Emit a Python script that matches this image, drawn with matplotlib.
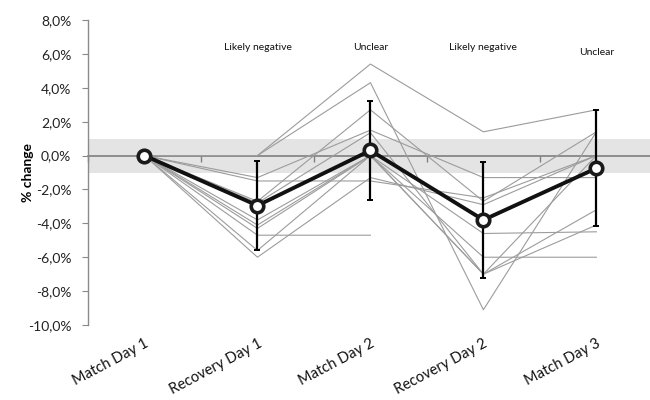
import numpy as np
import matplotlib
matplotlib.use('Agg')
from matplotlib import pyplot as plt

plt.rcParams['font.family'] = ['Lato', 'DejaVu Sans']

# Categories and tick labels
days = ['Match Day 1', 'Recovery Day 1', 'Match Day 2', 'Recovery Day 2', 'Match Day 3']
y_ticks = [8, 6, 4, 2, 0, -2, -4, -6, -8, -10]
y_tick_labels = ['8,0%', '6,0%', '4,0%', '2,0%', '0,0%', '-2,0%', '-4,0%', '-6,0%', '-8,0%', '-10,0%']

# Individual players (% change), nan = missing
nan = np.nan
player_a = [0, 0.0, 5.4, 1.4, 2.7]
player_b = [0, 0.0, 4.3, -9.1, 1.4]
player_c = [0, -1.3, 1.5, -1.3, -1.3]
player_d = [0, -1.5, -1.5, -2.5, 0.0]
player_e = [0, -4.7, -4.7, nan, nan]
player_f = [0, -2.7, 2.7, -2.7, 1.4]
player_g = [0, -2.8, 1.35, -7.0, 0.0]
player_h = [0, -3.8, 0.0, -4.6, -4.5]
player_i = [0, -4.1, 0.0, -6.0, -6.0]
player_j = [0, -4.3, 0.0, -7.0, -3.2]
player_k = [0, -5.6, 0.0, -7.0, -4.1]
player_l = [0, -6.0, -1.3, -2.9, 0.0]
players = [player_a, player_b, player_c, player_d, player_e, player_f,
           player_g, player_h, player_i, player_j, player_k, player_l]

# Group mean and SD
mean_change = [0, -2.95, 0.3, -3.8, -0.75]
sd_change = [0, 2.65, 2.9, 3.4, 3.42]

# Qualitative inference labels above each day
inference = ['', 'Likely negative', 'Unclear', 'Likely negative', 'Unclear']
inference_y = [0, 6.4, 6.4, 6.4, 6.1]

# Trivial change band
band = (-1, 1)


def main():
    fig = plt.figure(figsize=(6.5, 4), dpi=100)
    ax = fig.add_axes([0.1354, 0.1875, 0.869, 0.7625])

    x = np.arange(len(days))

    ax.axhspan(band[0], band[1], color='#e4e4e4', lw=0, zorder=0)

    for p in players:
        ax.plot(x, p, color='#9c9c9c', lw=0.8, zorder=2)

    ax.errorbar(x[1:], mean_change[1:], yerr=sd_change[1:], fmt='none',
                ecolor='black', elinewidth=1.6, capsize=2.5, capthick=1.4, zorder=3)
    ax.plot(x, mean_change, color='#111111', lw=2.8, marker='o', ms=9,
            mfc='white', mec='#1a1a1a', mew=2.6, zorder=4)

    for xi, txt, yi in zip(x, inference, inference_y):
        if txt:
            ax.text(xi, yi, txt, ha='center', va='center', fontsize=7.5, color='#111111')

    ax.set_xlim(-0.5, 4.5)
    ax.set_ylim(-10, 8)

    # y axis
    ax.set_yticks(y_ticks)
    ax.set_yticklabels(y_tick_labels, fontsize=10, color='#222222')
    ax.tick_params(axis='y', direction='out', length=4, color='#8a8a8a', pad=8)
    ax.spines['left'].set_color('#8a8a8a')
    ax.spines['left'].set_linewidth(1.0)
    ax.set_ylabel('% change', fontsize=10, fontweight='bold')
    ax.yaxis.set_label_coords(-0.096, 0.5)

    # zero line with ticks between categories
    ax.spines['bottom'].set_position(('data', 0))
    ax.spines['bottom'].set_color('#7f7f7f')
    ax.spines['bottom'].set_linewidth(1.2)
    ax.spines['bottom'].set_zorder(1)
    ax.set_xticks(np.arange(-0.5, 4.6, 1.0))
    ax.set_xticklabels([])
    ax.tick_params(axis='x', direction='out', length=4, color='#7f7f7f', width=1)
    ax.spines['top'].set_visible(False)
    ax.spines['right'].set_visible(False)

    # category labels at the bottom
    sec = ax.secondary_xaxis(0.0)
    sec.set_xticks(x)
    sec.set_xticklabels(days, rotation=28, ha='right', rotation_mode='anchor',
                        fontsize=10.5, color='#111111')
    sec.tick_params(length=0, pad=8)
    sec.spines['bottom'].set_visible(False)

    plt.savefig('out.png', dpi=100)


main()
